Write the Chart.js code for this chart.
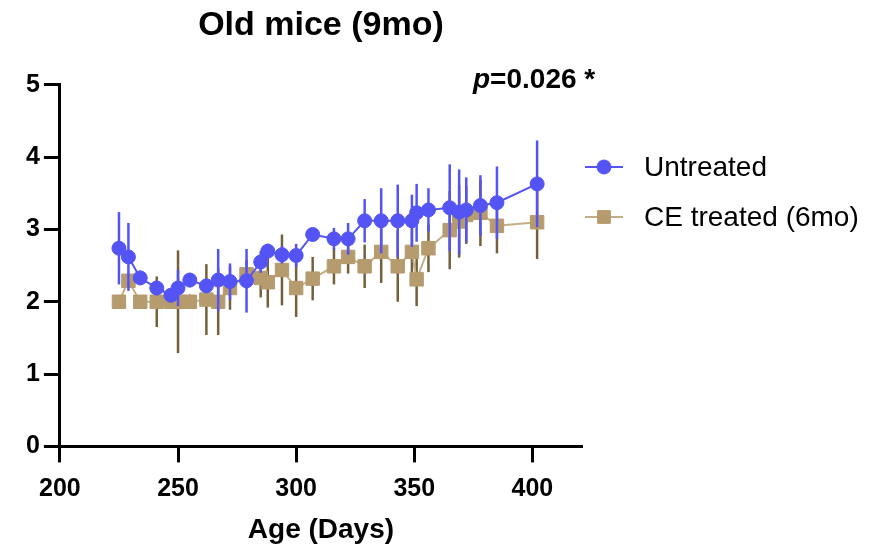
<!DOCTYPE html>
<html>
<head>
<meta charset="utf-8">
<title>Old mice (9mo)</title>
<script src="https://cdn.jsdelivr.net/npm/chart.js@4"></script>
<style>
  html, body { margin: 0; padding: 0; background: #fff; }
  #wrap { width: 887px; height: 549px; }
</style>
</head>
<body>
<div id="wrap"><canvas id="chart" width="887" height="549"></canvas></div>
<script>
// Data
const ageDays = [225, 229, 234, 241, 247, 250, 255, 262, 267, 272, 279, 285, 288, 294, 300,
                 307, 316, 322, 329, 336, 343, 349, 351, 356, 365, 369, 372, 378, 385, 402];
const untreated = [2.74, 2.62, 2.33, 2.19, 2.09, 2.19, 2.30, 2.22, 2.30, 2.28, 2.29, 2.55, 2.70, 2.65, 2.64,
                   2.93, 2.87, 2.87, 3.12, 3.12, 3.12, 3.12, 3.23, 3.27, 3.30, 3.24, 3.27, 3.33, 3.37, 3.63];
const untreatedErr = [0.50, 0.47, 0.10, 0.10, 0.08, 0.25, 0.10, 0.10, 0.43, 0.25, 0.44, 0.15, 0.10, 0.12, 0.16,
                      0.08, 0.15, 0.22, 0.30, 0.45, 0.50, 0.36, 0.40, 0.30, 0.60, 0.59, 0.45, 0.42, 0.50, 0.60];
const ceTreated = [2.00, 2.29, 2.00, 2.00, 2.00, 2.00, 2.00, 2.03, 2.00, 2.19, 2.38, 2.33, 2.27, 2.44, 2.19,
                   2.32, 2.49, 2.62, 2.49, 2.69, 2.49, 2.69, 2.31, 2.74, 2.99, 3.11, 3.20, 3.23, 3.05, 3.10];
const ceTreatedErr = [0.05, 0.10, 0.05, 0.35, 0.10, 0.71, 0.10, 0.49, 0.46, 0.30, 0.20, 0.27, 0.35, 0.49, 0.40,
                      0.30, 0.25, 0.23, 0.30, 0.43, 0.49, 0.35, 0.37, 0.33, 0.54, 0.50, 0.40, 0.46, 0.38, 0.51];
const xTicks = [200, 250, 300, 350, 400];
const yTicks = [0, 1, 2, 3, 4, 5];
const seriesNames = ['Untreated', 'CE treated (6mo)'];

const FONT = "'Liberation Sans', Arial, sans-serif";
const blue = '#5454F5';
const tan = '#B59B6E';
const tanLine = '#C4AE88';
const tanBar = '#75603C';

const toPoints = (xs, ys) => xs.map((x, i) => ({ x: x, y: ys[i] }));

// Error bars: drawn just before each dataset so markers sit on top
const errorBars = {
    id: 'errorBars',
    beforeDatasetDraw(chart, args) {
        const ds = chart.data.datasets[args.index];
        if (!ds.errors) return;
        const yScale = chart.scales.y;
        const ctx = chart.ctx;
        ctx.save();
        ctx.strokeStyle = ds.errorColor;
        ctx.lineWidth = 2.5;
        args.meta.data.forEach((pt, i) => {
            const v = ds.data[i].y;
            const e = ds.errors[i];
            ctx.beginPath();
            ctx.moveTo(pt.x, yScale.getPixelForValue(v + e));
            ctx.lineTo(pt.x, yScale.getPixelForValue(v - e));
            ctx.stroke();
        });
        ctx.restore();
    }
};

// p-value annotation and legend with line + marker
const extras = {
    id: 'extras',
    afterDraw(chart) {
        const ctx = chart.ctx;
        ctx.save();
        ctx.fillStyle = '#000';
        ctx.textBaseline = 'alphabetic';
        ctx.textAlign = 'left';
        ctx.font = 'italic bold 28px ' + FONT;
        ctx.fillText('p', 473, 88);
        const pw = ctx.measureText('p').width;
        ctx.font = 'bold 28px ' + FONT;
        ctx.fillText('=0.026 *', 473 + pw, 88);

        const items = [
            { name: seriesNames[0], y: 167, color: blue, line: blue, style: 'circle', r: 7 },
            { name: seriesNames[1], y: 217, color: tan, line: tanLine, style: 'rect', r: 9 }
        ];
        items.forEach(it => {
            ctx.strokeStyle = it.line;
            ctx.lineWidth = 2;
            ctx.beginPath();
            ctx.moveTo(585, it.y);
            ctx.lineTo(623, it.y);
            ctx.stroke();
            ctx.fillStyle = it.color;
            ctx.strokeStyle = it.color;
            ctx.lineWidth = 1;
            Chart.helpers.drawPoint(ctx, { pointStyle: it.style, radius: it.r, borderWidth: 1 }, 604, it.y);
            ctx.fillStyle = '#000';
            ctx.font = '28px ' + FONT;
            ctx.textBaseline = 'middle';
            ctx.fillText(it.name, 644, it.y + 1);
        });
        ctx.restore();
    }
};

const axisStyle = {
    grid: { display: true, drawOnChartArea: false, drawTicks: true, tickLength: 16, tickWidth: 3, tickColor: '#000' },
    border: { display: true, color: '#000', width: 3 }
};

new Chart(document.getElementById('chart'), {
    type: 'line',
    data: {
        datasets: [
            {
                label: seriesNames[0],
                data: toPoints(ageDays, untreated),
                errors: untreatedErr,
                errorColor: blue,
                borderColor: blue,
                backgroundColor: blue,
                borderWidth: 2,
                pointStyle: 'circle',
                pointRadius: 7,
                pointBorderWidth: 1,
                tension: 0
            },
            {
                label: seriesNames[1],
                data: toPoints(ageDays, ceTreated),
                errors: ceTreatedErr,
                errorColor: tanBar,
                borderColor: tanLine,
                backgroundColor: tan,
                pointBorderColor: tan,
                borderWidth: 2,
                pointStyle: 'rect',
                pointRadius: 9.5,
                pointBorderWidth: 1,
                tension: 0
            }
        ]
    },
    options: {
        responsive: false,
        animation: false,
        events: [],
        layout: { padding: { left: 22, right: 305, top: 0, bottom: 2 } },
        plugins: {
            legend: { display: false },
            tooltip: { enabled: false },
            title: {
                display: true,
                fullSize: false,
                text: 'Old mice (9mo)',
                color: '#000',
                font: { family: FONT, size: 34, weight: 'bold' },
                padding: { top: 5, bottom: 39 }
            }
        },
        scales: {
            x: {
                type: 'linear',
                min: 200,
                max: 421,
                ...axisStyle,
                afterBuildTicks: axis => { axis.ticks = xTicks.map(v => ({ value: v })); },
                ticks: { color: '#000', padding: 12, maxRotation: 0, font: { family: FONT, size: 25, weight: 'bold' } },
                title: {
                    display: true,
                    text: 'Age (Days)',
                    color: '#000',
                    font: { family: FONT, size: 28, weight: 'bold' },
                    padding: { top: -3, bottom: 0 }
                }
            },
            y: {
                type: 'linear',
                min: 0,
                max: 5,
                ...axisStyle,
                afterBuildTicks: axis => { axis.ticks = yTicks.map(v => ({ value: v })); },
                ticks: { color: '#000', padding: 4, font: { family: FONT, size: 25, weight: 'bold' } }
            }
        }
    },
    plugins: [errorBars, extras]
});
</script>
</body>
</html>
